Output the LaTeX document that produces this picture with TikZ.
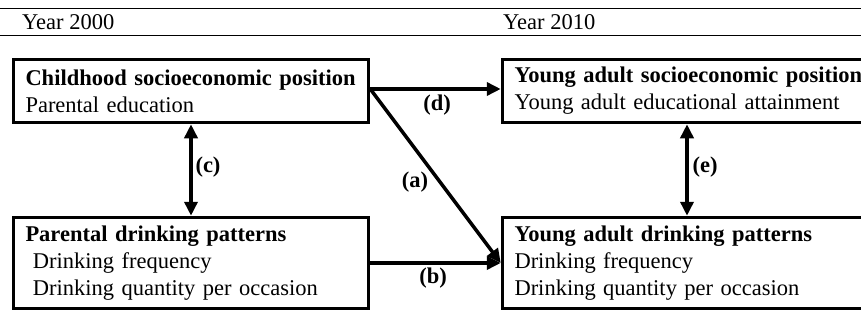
\documentclass[tikz,border=0pt]{standalone}
\usepackage{fontspec}
\setmainfont{Liberation Serif}
\usetikzlibrary{arrows.meta}
\begin{document}
\begin{tikzpicture}[x=1pt,y=-1pt,
  every node/.style={font=\fontsize{22.5}{27}\selectfont},
  box/.style={draw, line width=3.5pt, inner xsep=12pt, inner ysep=0pt, align=left, anchor=center},
  smallbox/.style={box, minimum height=63pt},
  bigbox/.style={box, minimum height=91pt},
  conn/.style={line width=3.5pt, -{Triangle[length=14pt,width=13pt]}},
  biconn/.style={line width=3.5pt, {Triangle[length=14pt,width=13pt]}-{Triangle[length=14pt,width=13pt]}},
  lab/.style={font=\fontsize{22.5}{27}\selectfont\bfseries, inner sep=0pt},
  rule/.style={line width=1pt}]
\useasboundingbox (0,0) rectangle (861,321);
\clip (0,0) rectangle (861,321);
% header rules
\coordinate (r1l) at (0,9);  \coordinate (r1r) at (861,9);
\coordinate (r2l) at (0,36); \coordinate (r2r) at (861,36);
\draw[rule] (r1l) -- (r1r);
\draw[rule] (r2l) -- (r2r);
\node[anchor=base west, inner sep=0pt] (y2000) at (22,30) {Year 2000};
\node[anchor=base west, inner sep=0pt] (y2010) at (503,30) {Year 2010};
% boxes
\node[smallbox, text width=331pt] (csp) at (191,91)
  {\mbox{\textbf{Childhood socioeconomic position}}\\Parental education};
\node[bigbox, text width=331pt] (pdp) at (191,263)
  {\textbf{Parental drinking patterns}\\\ Drinking frequency\\\ Drinking quantity per occasion};
\node[smallbox, text width=345pt] (ysp) at (687,91)
  {\mbox{\textbf{Young adult socioeconomic position}}\\Young adult educational attainment};
\node[bigbox, text width=345pt] (ydp) at (687,263)
  {\textbf{Young adult drinking patterns}\\Drinking frequency\\Drinking quantity per occasion};
% connectors
\draw[conn] ([yshift=2pt]csp.east) -- ([yshift=2pt]ysp.west);
\draw[conn] ([yshift=2pt]csp.east) -- (ydp.west);
\draw[conn] (pdp.east) -- (ydp.west);
\draw[biconn] (csp.south) -- (pdp.north);
\draw[biconn] (ysp.south) -- (ydp.north);
% labels
\node[lab] (ld) at (437,105) {(d)};
\node[lab] (la) at (415,182) {(a)};
\node[lab] (lb) at (433,278) {(b)};
\node[lab] (lc) at (208,167) {(c)};
\node[lab] (le) at (705,167) {(e)};
\end{tikzpicture}
\end{document}
